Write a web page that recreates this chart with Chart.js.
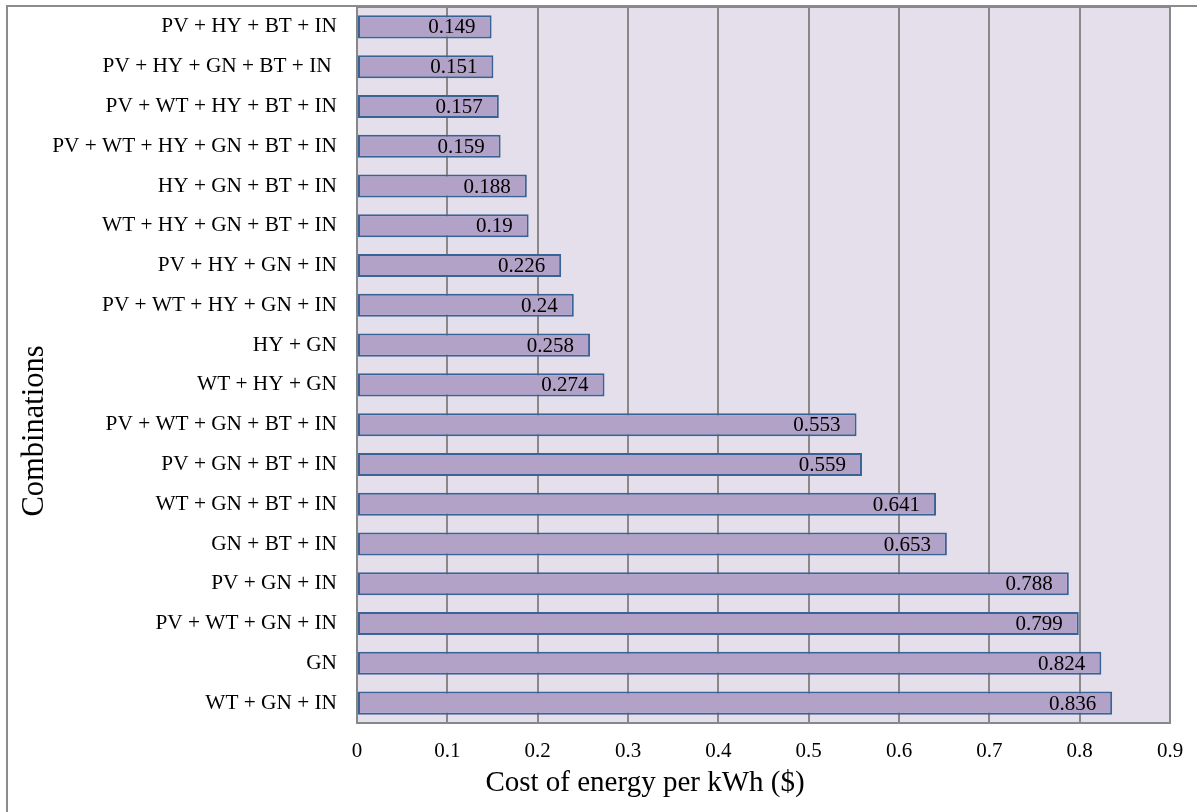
<!DOCTYPE html>
<html>
<head>
<meta charset="utf-8">
<title>Cost of energy per kWh by combination</title>
<script src="https://cdn.jsdelivr.net/npm/chart.js@4.4.1/dist/chart.umd.min.js"></script>
<style>
  html, body { margin: 0; padding: 0; background: #ffffff; }
  #wrap { width: 1197px; height: 812px; position: relative; }
</style>
</head>
<body>
<div id="wrap"><canvas id="chart" width="1197" height="812"></canvas></div>
<script>
// System combinations (top to bottom) and their cost of energy in $/kWh
const combinations = [
  'PV + HY + BT + IN',
  'PV + HY + GN + BT + IN ',
  'PV + WT + HY + BT + IN',
  'PV + WT + HY + GN + BT + IN',
  'HY + GN + BT + IN',
  'WT + HY + GN + BT + IN',
  'PV + HY + GN + IN',
  'PV + WT + HY + GN + IN',
  'HY + GN',
  'WT + HY + GN',
  'PV + WT + GN + BT + IN',
  'PV + GN + BT + IN',
  'WT + GN + BT + IN',
  'GN + BT + IN',
  'PV + GN + IN',
  'PV + WT + GN + IN',
  'GN',
  'WT + GN + IN'
];
const costPerKWh = [
  0.149, 0.151, 0.157, 0.159, 0.188, 0.19, 0.226, 0.24, 0.258,
  0.274, 0.553, 0.559, 0.641, 0.653, 0.788, 0.799, 0.824, 0.836
];
const xTickValues = [0, 0.1, 0.2, 0.3, 0.4, 0.5, 0.6, 0.7, 0.8, 0.9];
const xTitle = 'Cost of energy per kWh ($)';
const yTitle = 'Combinations';

const SERIF = '"Liberation Serif", "Times New Roman", serif';
const GRID = '#888888';

// White page, outer frame and lavender plot background
const backdrop = {
  id: 'backdrop',
  beforeDraw(chart) {
    const { ctx, chartArea: a } = chart;
    ctx.save();
    ctx.fillStyle = '#ffffff';
    ctx.fillRect(0, 0, chart.width, chart.height);
    ctx.fillStyle = '#E5DFEC';
    ctx.fillRect(a.left, a.top, a.right - a.left, a.bottom - a.top);
    ctx.strokeStyle = '#8c8c8c';
    ctx.lineWidth = 2;
    ctx.beginPath();
    ctx.moveTo(7, chart.height);
    ctx.lineTo(7, 6);
    ctx.lineTo(chart.width, 6);
    ctx.stroke();
    ctx.restore();
  },
  afterDatasetsDraw(chart) {
    const { ctx, chartArea: a } = chart;
    ctx.save();
    ctx.strokeStyle = GRID;
    ctx.lineWidth = 2;
    ctx.strokeRect(a.left, a.top, a.right - a.left, a.bottom - a.top);
    ctx.restore();
  }
};

// Value labels inside the end of each bar
const valueLabels = {
  id: 'valueLabels',
  afterDatasetsDraw(chart) {
    const { ctx } = chart;
    const meta = chart.getDatasetMeta(0);
    const values = chart.data.datasets[0].data;
    ctx.save();
    ctx.font = '21px ' + SERIF;
    ctx.fillStyle = '#000000';
    ctx.textAlign = 'right';
    ctx.textBaseline = 'middle';
    meta.data.forEach((bar, i) => {
      ctx.fillText(String(values[i]), bar.x - 16, bar.y + 1);
    });
    ctx.restore();
  }
};

// Axis titles
const axisTitles = {
  id: 'axisTitles',
  afterDraw(chart) {
    const { ctx } = chart;
    ctx.save();
    ctx.fillStyle = '#000000';
    ctx.textBaseline = 'alphabetic';
    ctx.textAlign = 'center';
    ctx.font = '29px ' + SERIF;
    ctx.fillText(xTitle, 645, 791);
    ctx.translate(43, 431);
    ctx.rotate(-Math.PI / 2);
    ctx.font = '30.5px ' + SERIF;
    ctx.fillText(yTitle, 0, 0);
    ctx.restore();
  }
};

function zeroPadding(scale) {
  scale.paddingTop = 0;
  scale.paddingBottom = 0;
  scale.paddingLeft = 0;
  scale.paddingRight = 0;
}

new Chart(document.getElementById('chart'), {
  type: 'bar',
  data: {
    labels: combinations,
    datasets: [{
      data: costPerKWh,
      backgroundColor: '#B3A2C7',
      borderColor: '#3A6395',
      borderWidth: 2,
      borderSkipped: false,
      barPercentage: 0.58,
      categoryPercentage: 1
    }]
  },
  options: {
    indexAxis: 'y',
    responsive: false,
    devicePixelRatio: 1,
    animation: false,
    layout: { padding: { left: 0, top: 7, right: 27, bottom: 0 } },
    plugins: {
      legend: { display: false },
      tooltip: { enabled: false }
    },
    scales: {
      x: {
        type: 'linear',
        position: 'bottom',
        min: 0,
        max: 0.9,
        afterBuildTicks(scale) {
          scale.ticks = xTickValues.map(v => ({ value: v }));
        },
        afterFit(scale) {
          scale.height = 89;
          zeroPadding(scale);
        },
        grid: { color: GRID, lineWidth: 2, drawTicks: false },
        border: { display: true, color: GRID, width: 2 },
        ticks: {
          padding: 16,
          color: '#000000',
          font: { family: SERIF, size: 21 },
          callback: v => String(Math.round(v * 10) / 10)
        }
      },
      y: {
        type: 'category',
        position: 'left',
        afterFit(scale) {
          scale.width = 357;
          zeroPadding(scale);
        },
        grid: { display: false, drawTicks: false },
        border: { display: true, color: GRID, width: 2 },
        ticks: {
          padding: 20,
          color: '#000000',
          font: { family: SERIF, size: 21.3 },
          autoSkip: false
        }
      }
    }
  },
  plugins: [backdrop, valueLabels, axisTitles]
});
</script>
</body>
</html>
